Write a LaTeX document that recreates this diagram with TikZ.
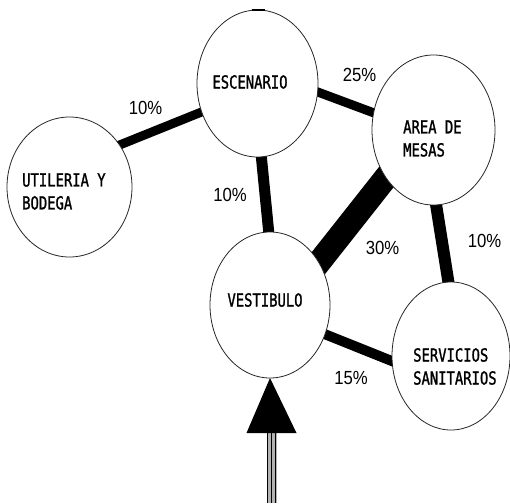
\documentclass[tikz,border=0pt]{standalone}
\usepackage{fontspec}
\usetikzlibrary{shapes.geometric,backgrounds}
\newfontfamily\cadfont[FakeStretch=0.77,FakeBold=1.2]{DejaVu Sans Mono}
\newfontfamily\pctfont[FakeStretch=0.88]{Liberation Sans}
\begin{document}
\begin{tikzpicture}[x=1pt,y=-1pt,
  room/.style={ellipse,draw=black!85,fill=white,line width=0.8pt,inner sep=0pt,outer sep=0pt},
  rlabel/.style={font=\cadfont\fontsize{18}{23}\selectfont,align=left,inner sep=0pt},
  pct/.style={font=\pctfont\fontsize{19}{22}\selectfont,inner sep=0pt},
  link/.style={line cap=butt,shorten <=-14pt,shorten >=-14pt}]
\useasboundingbox (0,0) rectangle (510,503);
% rooms
\node[room,minimum width=121pt,minimum height=147pt] (esc) at (257.5,83.5) {};
\node[room,minimum width=125pt,minimum height=140pt] (util) at (69.5,187) {};
\node[room,minimum width=123pt,minimum height=150pt] (area) at (433.5,130) {};
\node[room,minimum width=120pt,minimum height=146pt] (vest) at (270,305) {};
\node[room,minimum width=118pt,minimum height=148pt] (serv) at (451,356) {};
% room names
\node[rlabel] (esct) at (250,82) {ESCENARIO};
\node[rlabel,anchor=west] (utilt) at (22,191.5) {UTILERIA Y\\BODEGA};
\node[rlabel,anchor=west] (areat) at (403,138.5) {AREA DE\\MESAS};
\node[rlabel] (vestt) at (265,300) {VESTIBULO};
\node[rlabel,anchor=west] (servt) at (413,366.5) {SERVICIOS\\SANITARIOS};
% connectors
\begin{scope}[on background layer]
\draw[link,line width=9pt] (util.40) -- (esc.207.5);
\draw[link,line width=9pt] (esc.352) -- (area.164.5);
\draw[link,line width=11pt] (esc.273.5) -- (vest.91);
\draw[link,line width=24pt] (area.225.6) -- (vest.41);
\draw[link,line width=12pt] (area.272.7) -- (serv.92);
\draw[link,line width=10pt] (vest.332) -- (serv.185.8);
\end{scope}
% percentages
\node[pct] (p1) at (145.5,107.5) {10\%};
\node[pct] (p2) at (359.5,74.5) {25\%};
\node[pct] (p3) at (230,194.5) {10\%};
\node[pct] (p4) at (382.5,248) {30\%};
\node[pct] (p5) at (484.5,240.5) {10\%};
\node[pct] (p6) at (351,377.5) {15\%};
% small mark on top of ESCENARIO
\draw[line width=2pt] ([xshift=-6pt]esc.north) -- ([xshift=7pt]esc.north);
% entrance arrow
\coordinate (entry) at (271.5,503);
\coordinate (headbase) at (271.5,433);
\fill[gray!60] ([xshift=-5pt]headbase) rectangle ([xshift=5pt]entry);
\draw[line width=1.5pt] ([xshift=-4pt]headbase) -- ([xshift=-4pt]entry);
\draw[line width=1.5pt] (headbase) -- (entry);
\draw[line width=1.5pt] ([xshift=4pt]headbase) -- ([xshift=4pt]entry);
\fill[black] (vest.south) -- ([xshift=-25pt]headbase) -- ([xshift=25pt]headbase) -- cycle;
\end{tikzpicture}
\end{document}
